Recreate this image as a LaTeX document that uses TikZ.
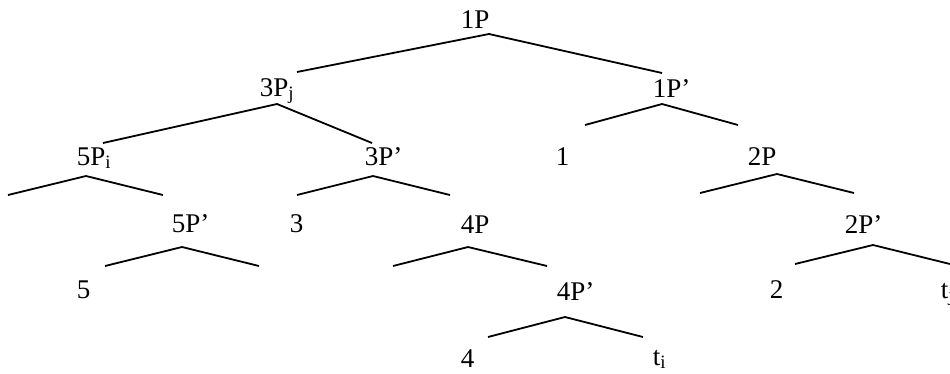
\documentclass[tikz,border=0pt]{standalone}
\usepackage{fontspec}
\setmainfont{Liberation Serif}

\tikzset{lbl/.style={anchor=base west, inner sep=0pt, font=\fontsize{27}{31}\selectfont}}

\begin{document}
\begin{tikzpicture}[x=1pt,y=-1pt,line width=1.8pt]
\useasboundingbox (0,0) rectangle (950,373);

% Labels of the tree
\node[lbl] (n1P)  at (460,28)  {1P};
\node[lbl] (n3P)  at (259,96)  {3P\textsubscript{j}};
\node[lbl] (n1Pp) at (652,97)  {1P'};
\node[lbl] (n5P)  at (76,165)  {5P\textsubscript{i}};
\node[lbl] (n3Pp) at (364,165) {3P'};
\node[lbl] (l1)   at (555,165) {1};
\node[lbl] (n2P)  at (747,165) {2P};
\node[lbl] (n5Pp) at (171,232) {5P'};
\node[lbl] (l3)   at (289,232) {3};
\node[lbl] (n4P)  at (460,233) {4P};
\node[lbl] (n2Pp) at (844,233) {2P'};
\node[lbl] (l5)   at (76,298)  {5};
\node[lbl] (n4Pp) at (556,300) {4P'};
\node[lbl] (l2)   at (769,298) {2};
\node[lbl] (ltj)  at (940,298) {t\textsubscript{j}};
\node[lbl] (l4)   at (460,367) {4};
\node[lbl] (lti)  at (652,365) {t\textsubscript{i}};

% Tops of the branches (under each mother label)
\coordinate (t1P)  at (489,34);
\coordinate (t3P)  at (277,104);
\coordinate (t1Pp) at (662,104);
\coordinate (t5P)  at (86,176);
\coordinate (t3Pp) at (373,176);
\coordinate (t2P)  at (777,174);
\coordinate (t5Pp) at (182,247);
\coordinate (t4P)  at (468,247);
\coordinate (t2Pp) at (873,245);
\coordinate (t4Pp) at (565,317);

% Lower ends of the branches
\coordinate (e3P)  at (297,72);
\coordinate (e1Pp) at (662,73);
\coordinate (e5P)  at (103,143);
\coordinate (e3Pp) at (372,143);
\coordinate (e1)   at (585,125);
\coordinate (e2P)  at (738,125);
\coordinate (e5a)  at (8,195);
\coordinate (e5Pp) at (163,195);
\coordinate (e3)   at (297,195);
\coordinate (e4P)  at (450,195);
\coordinate (e2a)  at (700,193);
\coordinate (e2Pp) at (854,193);
\coordinate (e5)   at (105,266);
\coordinate (e5b)  at (259,266);
\coordinate (e4a)  at (393,266);
\coordinate (e4Pp) at (547,266);
\coordinate (e2)   at (795,264);
\coordinate (etj)  at (950,264);
\coordinate (e4)   at (488,337);
\coordinate (eti)  at (643,337);

% Branches
\draw (e3P) -- (t1P) -- (e1Pp);
\draw (e5P) -- (t3P) -- (e3Pp);
\draw (e1) -- (t1Pp) -- (e2P);
\draw (e5a) -- (t5P) -- (e5Pp);
\draw (e3) -- (t3Pp) -- (e4P);
\draw (e2a) -- (t2P) -- (e2Pp);
\draw (e5) -- (t5Pp) -- (e5b);
\draw (e4a) -- (t4P) -- (e4Pp);
\draw (e2) -- (t2Pp) -- (etj);
\draw (e4) -- (t4Pp) -- (eti);
\end{tikzpicture}
\end{document}
